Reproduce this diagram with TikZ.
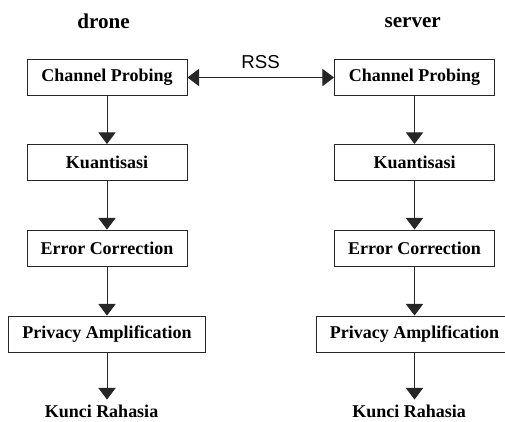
\documentclass[tikz,border=0pt]{standalone}
\usepackage{fontspec}
\setmainfont{Liberation Serif}
\setsansfont{Liberation Sans}
\usetikzlibrary{arrows.meta}
\tikzset{
	blok/.style={draw=black!85, line width=0.7pt, minimum width=4cm, minimum height=0.9cm, inner sep=0pt, font=\fontsize{12.8}{15}\selectfont\bfseries},
	judul/.style={font=\fontsize{15}{18}\selectfont\bfseries},
	kunci/.style={font=\fontsize{12.8}{15}\selectfont\bfseries},
	panah/.style={draw=black!85, line width=0.7pt, -{Triangle[width=0.43cm,length=0.29cm]}},
}

\begin{document}
\begin{tikzpicture}
		%%%%% START %%%%%
		\useasboundingbox (0, 0) rectangle (12.625, 10.525);
		
		\node[judul, anchor=base] (drone) at (2.5875, 9.825) {drone};
		\node[judul, anchor=base] (server) at (10.3175, 9.85) {server};
		
		\node[blok] (cpA) at (2.675, 8.5875) {Channel Probing};
		\node[blok] (kuA) at (2.675, 6.4625) {Kuantisasi};
		\node[blok] (ecA) at (2.675, 4.325) {Error Correction};
		\node[blok, minimum width=4.925cm] (paA) at (2.675, 2.175) {Privacy Amplification};
		\node[kunci, anchor=base] (krA) at (2.5375, 0.1) {Kunci Rahasia};
		
		\node[blok] (cpB) at (10.3625, 8.5875) {Channel Probing};
		\node[blok] (kuB) at (10.3625, 6.4625) {Kuantisasi};
		\node[blok] (ecB) at (10.3625, 4.325) {Error Correction};
		\node[blok, minimum width=4.925cm] (paB) at (10.3625, 2.175) {Privacy Amplification};
		\node[kunci, anchor=base] (krB) at (10.225, 0.1) {Kunci Rahasia};
		
		\draw[panah] (cpA) -- (kuA);
		\draw[panah] (kuA) -- (ecA);
		\draw[panah] (ecA) -- (paA);
		\draw[panah] (paA.south) -- (paA.south |- krA.north);
		
		\draw[panah] (cpB) -- (kuB);
		\draw[panah] (kuB) -- (ecB);
		\draw[panah] (ecB) -- (paB);
		\draw[panah] (paB.south) -- (paB.south |- krB.north);
		
		\draw[panah, {Triangle[width=0.43cm,length=0.29cm]}-{Triangle[width=0.43cm,length=0.29cm]}] (cpA) -- (cpB);
		\node[anchor=base, font=\fontsize{13.3}{16}\selectfont\sffamily] (rss) at (6.5125, 8.825) {RSS};
		%%%%% END %%%%%
	\end{tikzpicture}
\end{document}
